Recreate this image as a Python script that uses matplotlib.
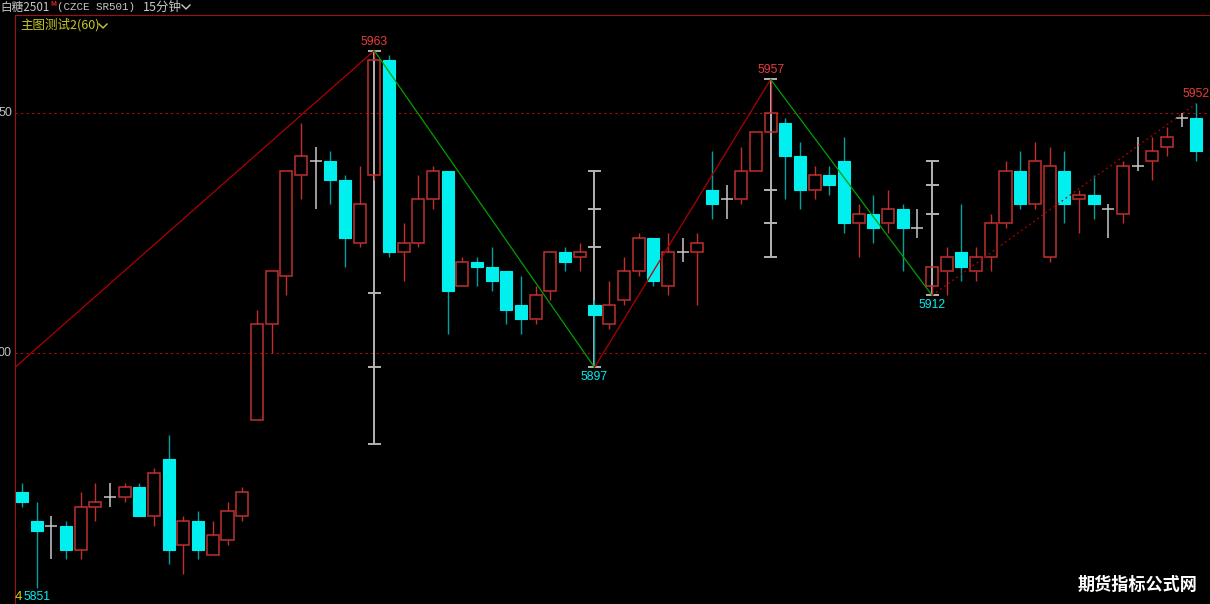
import matplotlib
matplotlib.use('Agg')
import matplotlib.pyplot as plt
from matplotlib.lines import Line2D

plt.rcParams['font.family'] = ['Noto Sans CJK SC', 'DejaVu Sans']

# 15 min bars, SR501
opens = [5871, 5865, 5864, 5864, 5859, 5868, 5870, 5870, 5872, 5866,
         5878, 5860, 5865, 5858, 5861, 5866, 5886, 5906, 5916, 5937,
         5940, 5940, 5936, 5923, 5937, 5961, 5921, 5923, 5932, 5938,
         5914, 5919, 5918, 5917, 5910, 5907, 5913, 5921, 5920, 5910,
         5906, 5911, 5917, 5924, 5914, 5921, 5921, 5934, 5932, 5932,
         5938, 5946, 5948, 5941, 5934, 5937, 5940, 5927, 5929, 5927,
         5930, 5926, 5914, 5917, 5921, 5917, 5920, 5927, 5938, 5931,
         5920, 5938, 5932, 5933, 5930, 5929, 5939, 5940, 5943, 5949,
         5949]
highs = [5873, 5869, 5866, 5865, 5871, 5873, 5873, 5873, 5873, 5876,
         5883, 5866, 5867, 5865, 5869, 5872, 5909, 5917, 5938, 5948,
         5943, 5942, 5937, 5939, 5963, 5962, 5927, 5937, 5939, 5938,
         5920, 5920, 5922, 5917, 5916, 5914, 5921, 5922, 5923, 5911,
         5915, 5920, 5925, 5924, 5925, 5924, 5925, 5942, 5935, 5943,
         5946, 5957, 5949, 5944, 5939, 5939, 5945, 5931, 5933, 5934,
         5931, 5930, 5918, 5922, 5931, 5922, 5929, 5940, 5942, 5944,
         5943, 5942, 5934, 5937, 5931, 5940, 5945, 5945, 5947, 5950,
         5952]
lows = [5868, 5851, 5857, 5857, 5857, 5865, 5868, 5869, 5866, 5864,
        5856, 5854, 5857, 5858, 5860, 5865, 5886, 5900, 5912, 5932,
        5930, 5931, 5918, 5922, 5936, 5920, 5915, 5922, 5930, 5904,
        5914, 5914, 5913, 5906, 5904, 5906, 5911, 5917, 5917, 5897,
        5905, 5910, 5916, 5914, 5912, 5919, 5910, 5928, 5928, 5931,
        5938, 5946, 5932, 5930, 5932, 5933, 5925, 5920, 5923, 5925,
        5917, 5924, 5912, 5912, 5915, 5915, 5917, 5926, 5930, 5930,
        5919, 5927, 5925, 5928, 5924, 5927, 5938, 5936, 5941, 5947,
        5940]
closes = [5869, 5863, 5864, 5859, 5868, 5869, 5870, 5872, 5866, 5875,
          5859, 5865, 5859, 5862, 5867, 5871, 5906, 5917, 5938, 5941,
          5940, 5936, 5924, 5931, 5961, 5921, 5923, 5932, 5938, 5913,
          5919, 5918, 5915, 5909, 5907, 5912, 5921, 5919, 5921, 5908,
          5910, 5917, 5924, 5915, 5921, 5921, 5923, 5931, 5932, 5938,
          5946, 5950, 5941, 5934, 5937, 5935, 5927, 5929, 5926, 5930,
          5926, 5926, 5918, 5920, 5918, 5920, 5927, 5938, 5931, 5940,
          5939, 5931, 5933, 5931, 5930, 5939, 5939, 5942, 5945, 5949,
          5942]

# zigzag pivots (bar index, price); first one is at the left edge
zz_bars = [-0.48, 24, 39, 51, 62, 80]
zz_prices = [5897, 5963, 5897, 5957, 5912, 5952]
zz_labels = ['', '5963', '5897', '5957', '5912', '5952']

# white range markers on pivot bars
mk_bars = [24, 39, 51, 62]
mk_top = [5963, 5938, 5957, 5940]
mk_bottom = [5881, 5897, 5920, 5912]
mk_ticks = [[5912.5, 5897], [5930, 5922], [5934, 5927], [5935, 5929]]

grid_prices = [5950, 5900]

RED = '#c03030'
CYAN = '#00f0f0'
TEAL = '#00a0a0'
GREY = '#c8c8c8'

W, H = 1210, 604
fig = plt.figure(figsize=(12.1, 6.04), dpi=100, facecolor='black')
ax = fig.add_axes([15 / W, 0, (W - 15) / W, (H - 15) / H], facecolor='black')
ax.set_xlim(-0.477, 80.93)
ax.set_ylim(5950 - (H - 113) / 4.8, 5950 + (113 - 15) / 4.8)
for s in ['right', 'bottom']:
    ax.spines[s].set_visible(False)
ax.spines['left'].set_color('#a01010')
ax.spines['top'].set_color('#a01010')
ax.set_xticks([])
ax.set_yticks([])

for g in grid_prices:
    ax.axhline(g, color='#a01010', lw=0.8, ls=(0, (2, 3)), zorder=1)

# markers go under the candles
for b, t, bt, tk in zip(mk_bars, mk_top, mk_bottom, mk_ticks):
    ax.vlines(b, bt, t, color='#b4b4b4', lw=1.4, zorder=2)
    ax.hlines([t, bt] + tk, b - 0.45, b + 0.45, color='#b4b4b4', lw=1.4, zorder=2)

bw = 0.82
for i, (o, h, l, c) in enumerate(zip(opens, highs, lows, closes)):
    if c > o:
        ax.vlines(i, c, h, color=RED, lw=1, zorder=3)
        ax.vlines(i, l, o, color=RED, lw=1, zorder=3)
        ax.bar(i, c - o, bottom=o, width=bw, facecolor='none', edgecolor=RED, lw=1.1, zorder=4)
    elif c < o:
        ax.vlines(i, o, h, color=TEAL, lw=1, zorder=3)
        ax.vlines(i, l, c, color=TEAL, lw=1, zorder=3)
        ax.bar(i, o - c, bottom=c, width=bw, facecolor=CYAN, edgecolor=CYAN, lw=0.8, zorder=4)
    else:
        ax.vlines(i, l, h, color=GREY, lw=1.1, zorder=3)
        ax.hlines(o, i - bw / 2, i + bw / 2, color=GREY, lw=1.1, zorder=3)

# zigzag
seg_styles = [('#b00000', '-'), ('#00a000', '-'), ('#b00000', '-'),
              ('#00a000', '-'), ('#b00000', (0, (1.5, 2.5)))]
for k, (col, ls) in enumerate(seg_styles):
    ax.plot(zz_bars[k:k + 2], zz_prices[k:k + 2], color=col, ls=ls, lw=0.9, zorder=5)

for k in range(1, len(zz_bars)):
    up = zz_prices[k] > zz_prices[k - 1]
    ax.annotate(zz_labels[k], (zz_bars[k], zz_prices[k]),
                xytext=(0, 3 if up else -4), textcoords='offset pixels',
                ha='center', va='bottom' if up else 'top',
                color='#e83c3c' if up else CYAN, fontsize=8.8,
                family=['Liberation Sans'], zorder=6)

# low of the window
lo = min(lows)
ax.annotate(str(lo), (lows.index(lo), lo), xytext=(0, -3), textcoords='offset pixels',
            ha='center', va='top', color=CYAN, fontsize=8.8, family=['Liberation Sans'],
            annotation_clip=False, zorder=6)
fig.text(15 / W, 1 - 597 / H, '4', color='#d2d200', fontsize=9.5,
         family=['Liberation Sans'], ha='left', va='center')

# price axis labels, only the last two digits are visible left of the axis
for g in grid_prices:
    fig.text(12 / W, ax.transData.transform((0, g))[1] / H, str(g)[-2:], color='#c0c0c0',
             fontsize=9, family=['Liberation Sans'], ha='right', va='center')

# header
fig.text(0 / W, 1 - 7 / H, '白糖2501', color='#c8c8c8', fontsize=8.4, va='center')
fig.text(50 / W, 1 - 4 / H, 'M', color='#e02020', fontsize=5, va='center', weight='bold')
fig.text(57 / W, 1 - 7 / H, '(CZCE SR501)', color='#c8c8c8', fontsize=7.8,
         family=['Liberation Mono'], va='center')
fig.text(143 / W, 1 - 7 / H, '15分钟', color='#c8c8c8', fontsize=9, va='center')
fig.text(20 / W, 1 - 25 / H, '主图测试2(60)', color='#c8c828', fontsize=9, va='center')


def chevron(x, y, col):
    fig.add_artist(Line2D([x / W, (x + 4) / W, (x + 8) / W],
                          [1 - (y - 2) / H, 1 - (y + 2) / H, 1 - (y - 2) / H],
                          color=col, lw=1))


chevron(182, 7, '#c8c8c8')
chevron(99, 26, '#c8c828')

fig.text(1138 / W, 1 - 585 / H, '期货指标公式网', color='white', fontsize=12.3,
         weight='bold', ha='center', va='center')

fig.savefig('out.png', dpi=100, facecolor='black')
